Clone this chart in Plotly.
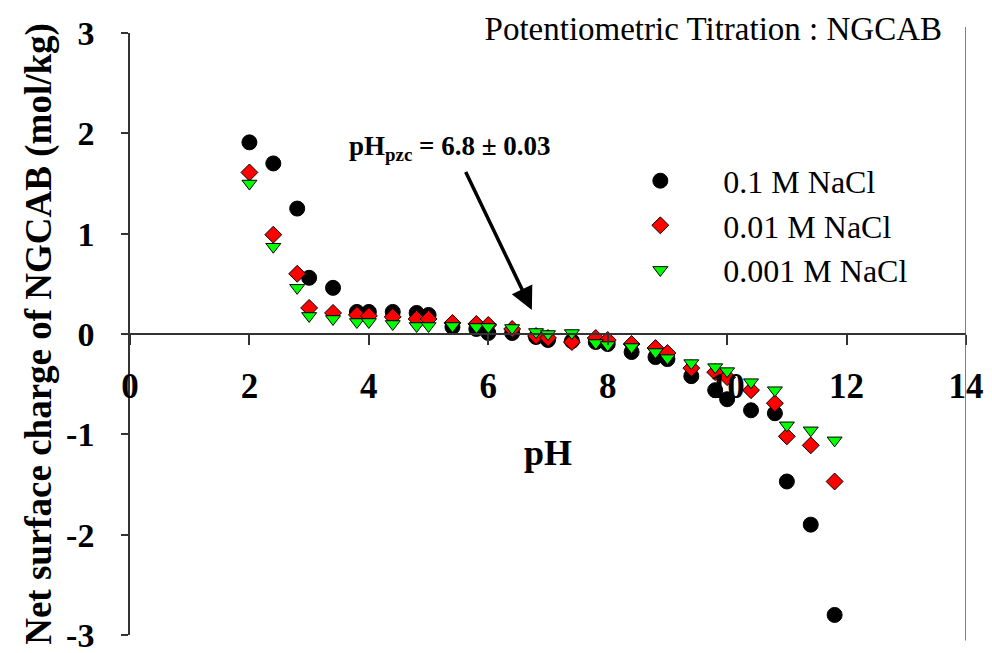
import plotly.graph_objects as go

# ---------------- data ----------------
ph = [2.0, 2.4, 2.8, 3.0, 3.4, 3.8, 4.0, 4.4, 4.8, 5.0,
      5.4, 5.8, 6.0, 6.4, 6.8, 7.0, 7.4, 7.8, 8.0, 8.4,
      8.8, 9.0, 9.4, 9.8, 10.0, 10.4, 10.8, 11.0, 11.4, 11.8]

charge_0_1M = [1.91, 1.70, 1.25, 0.56, 0.46, 0.22, 0.22, 0.22, 0.21, 0.19,
               0.07, 0.05, 0.01, 0.01, -0.03, -0.06, -0.07, -0.08, -0.10, -0.18,
               -0.23, -0.25, -0.42, -0.56, -0.65, -0.76, -0.79, -1.47, -1.90, -2.80]

charge_0_01M = [1.61, 0.99, 0.60, 0.26, 0.21, 0.19, 0.18, 0.17, 0.15, 0.15,
                0.11, 0.10, 0.09, 0.05, -0.02, -0.04, -0.08, -0.04, -0.06, -0.10,
                -0.14, -0.19, -0.34, -0.38, -0.43, -0.56, -0.69, -1.02, -1.11, -1.47]

charge_0_001M = [1.50, 0.87, 0.46, 0.18, 0.15, 0.12, 0.12, 0.10, 0.08, 0.08,
                 0.08, 0.07, 0.07, 0.06, 0.02, 0.00, 0.01, -0.09, -0.11, -0.13,
                 -0.18, -0.24, -0.29, -0.33, -0.37, -0.48, -0.56, -0.91, -0.96, -1.06]

series_names = ["0.1 M NaCl", "0.01 M NaCl", "0.001 M NaCl"]
x_ticks = [0, 2, 4, 6, 8, 10, 12, 14]
y_ticks = [-3, -2, -1, 0, 1, 2, 3]

pzc_text = "pH<sub>pzc</sub> = 6.8 ± 0.03"
chart_title = "Potentiometric Titration : NGCAB"

SERIF = "Liberation Serif, Times New Roman, serif"

fig = go.Figure()

fig.add_trace(go.Scatter(
    x=ph, y=charge_0_1M, mode="markers", name=series_names[0],
    marker=dict(symbol="circle", size=15, color="#000000",
                line=dict(color="#000000", width=1)),
))
fig.add_trace(go.Scatter(
    x=ph, y=charge_0_01M, mode="markers", name=series_names[1],
    marker=dict(symbol="diamond", size=13, color="#ff0000",
                line=dict(color="#000000", width=1)),
))
fig.add_trace(go.Scatter(
    x=ph, y=charge_0_001M, mode="markers", name=series_names[2],
    marker=dict(symbol="triangle-down", size=13, color="#00ff00",
                line=dict(color="#000000", width=1)),
))

# arrow pointing at pH_pzc
fig.add_annotation(
    x=6.73, y=0.24, ax=5.61, ay=1.63, xref="x", yref="y", axref="x", ayref="y",
    text="", showarrow=True, arrowhead=2, arrowsize=1.3, arrowwidth=3.5,
    arrowcolor="#000000",
)
fig.add_annotation(
    x=5.36, y=1.85, xref="x", yref="y", text="<b>" + pzc_text + "</b>",
    showarrow=False, font=dict(family=SERIF, size=27, color="#000000"),
)

fig.update_layout(
    width=992, height=653,
    margin=dict(l=130, r=26, t=33, b=18, autoexpand=False),
    paper_bgcolor="white", plot_bgcolor="white",
    font=dict(family=SERIF, color="#000000"),
    title=dict(text=chart_title, x=942 / 992, xanchor="right",
               y=1 - 28 / 653, yanchor="middle",
               font=dict(family=SERIF, size=33, color="#000000")),
    legend=dict(x=0.559, y=0.80, xanchor="left", yanchor="top",
                font=dict(family=SERIF, size=32, color="#000000"),
                itemwidth=116, bgcolor="rgba(0,0,0,0)", tracegroupgap=0),
    showlegend=True,
    xaxis=dict(
        range=[0, 14], tickvals=x_ticks, ticktext=[str(v) for v in x_ticks],
        anchor="free", position=0.5, automargin=False,
        showline=True, linecolor="#333333", linewidth=1.5,
        ticks="outside", ticklen=10, tickwidth=1.5, tickcolor="#333333",
        ticklabelstandoff=11,
        tickfont=dict(family=SERIF, size=35, color="#000000", weight="bold"),
        showgrid=False, zeroline=False,
        title=dict(text="<b>pH</b>", standoff=34,
                   font=dict(family=SERIF, size=36, color="#000000")),
    ),
    yaxis=dict(
        range=[-3, 3], tickvals=y_ticks, ticktext=[str(v) for v in y_ticks],
        automargin=False,
        showline=True, linecolor="#333333", linewidth=1.5,
        ticks="outside", ticklen=7, tickwidth=1.5, tickcolor="#333333",
        ticklabelstandoff=20, ticklabeloverflow="allow",
        tickfont=dict(family=SERIF, size=34, color="#000000", weight="bold"),
        showgrid=False, zeroline=False,
        title=dict(text="<b>Net surface charge of NGCAB (mol/kg)</b>", standoff=3,
                   font=dict(family=SERIF, size=37, color="#000000")),
    ),
)

# right-hand frame line at pH 14
fig.add_shape(type="line", xref="x", yref="paper", x0=14, x1=14,
              y0=-0.009, y1=1.01, line=dict(color="#555555", width=1.5))

fig.write_html("out.html")
